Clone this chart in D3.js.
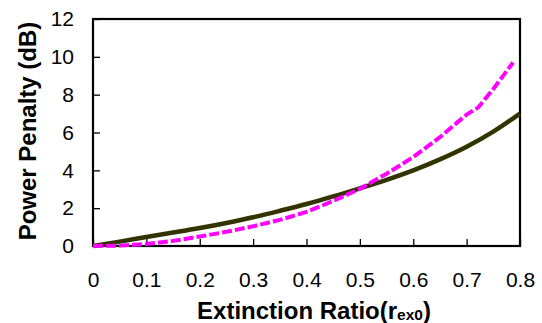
<!DOCTYPE html>
<html><head><meta charset="utf-8">
<script src="https://cdn.jsdelivr.net/npm/d3@7"></script>
<style>body{margin:0;background:#fff;}svg{display:block;font-family:"Liberation Sans",Arial,sans-serif;}</style>
</head><body>
<svg id="c" width="542" height="323"></svg>
<script>
const solidX = [0,0.05,0.1,0.15,0.2,0.25,0.3,0.35,0.4,0.45,0.5,0.55,0.6,0.65,0.7,0.75,0.8];
const solidY = [0,0.23,0.48,0.71,0.95,1.22,1.52,1.86,2.22,2.62,3.05,3.5,4.0,4.58,5.25,6.05,7.0];
const dashX = [0,0.05,0.1,0.15,0.2,0.25,0.3,0.35,0.4,0.45,0.5,0.55,0.6,0.65,0.7,0.722,0.75,0.787];
const dashY = [0,0.02,0.1,0.27,0.5,0.75,1.04,1.38,1.8,2.38,3.02,3.82,4.7,5.75,6.95,7.33,8.3,9.7];
const xTicks = [0,0.1,0.2,0.3,0.4,0.5,0.6,0.7,0.8];
const yTicks = [0,2,4,6,8,10,12];

const svg = d3.select("#c");
const L=93,R=520,T=19,B=246;
const x = d3.scaleLinear().domain([0,0.8]).range([L,R]);
const y = d3.scaleLinear().domain([0,12]).range([B,T]);
const FF = "Liberation Sans, Arial, sans-serif";

const xa = svg.append("g").attr("transform",`translate(0,${B})`)
  .call(d3.axisBottom(x).tickValues(xTicks).tickSizeInner(-7).tickSizeOuter(0).tickPadding(26).tickFormat(d=>d===0?"0":d3.format(".1f")(d)));
xa.select(".domain").remove();
xa.selectAll("line").attr("stroke","#000").attr("stroke-width",1.3);
xa.selectAll("text").attr("font-size",21).attr("fill","#000").attr("font-family",FF);

const ya = svg.append("g").attr("transform",`translate(${L},0)`)
  .call(d3.axisLeft(y).tickValues(yTicks).tickSizeInner(-7).tickSizeOuter(0).tickPadding(19));
ya.select(".domain").remove();
ya.selectAll("line").attr("stroke","#000").attr("stroke-width",1.3);
ya.selectAll("text").attr("font-size",21).attr("fill","#000").attr("font-family",FF);

svg.append("rect").attr("x",L).attr("y",T).attr("width",R-L).attr("height",B-T)
  .attr("fill","none").attr("stroke","#000").attr("stroke-width",2.2);

const line = d3.line().x(d=>x(d[0])).y(d=>y(d[1])).curve(d3.curveMonotoneX);
svg.append("path").datum(solidX.map((v,i)=>[v,solidY[i]])).attr("d",line)
  .attr("fill","none").attr("stroke","#333300").attr("stroke-width",4.5);
const line2 = d3.line().x(d=>x(d[0])).y(d=>y(d[1]));
svg.append("path").datum(dashX.map((v,i)=>[v,dashY[i]])).attr("d",line2)
  .attr("fill","none").attr("stroke","#ff00ff").attr("stroke-width",4).attr("stroke-dasharray","10,3");

const xt = svg.append("text").attr("x",314).attr("y",319).attr("text-anchor","middle")
  .attr("font-size",24).attr("font-weight","bold").attr("fill","#000");
xt.append("tspan").text("Extinction Ratio(r");
xt.append("tspan").attr("font-size",15.5).attr("dy",1).text("ex0");
xt.append("tspan").attr("dy",-1).text(")");

svg.append("text").attr("transform","translate(36,131) rotate(-90)").attr("text-anchor","middle")
  .attr("font-size",24).attr("font-weight","bold").attr("fill","#000").text("Power Penalty (dB)");
</script>
</body></html>
